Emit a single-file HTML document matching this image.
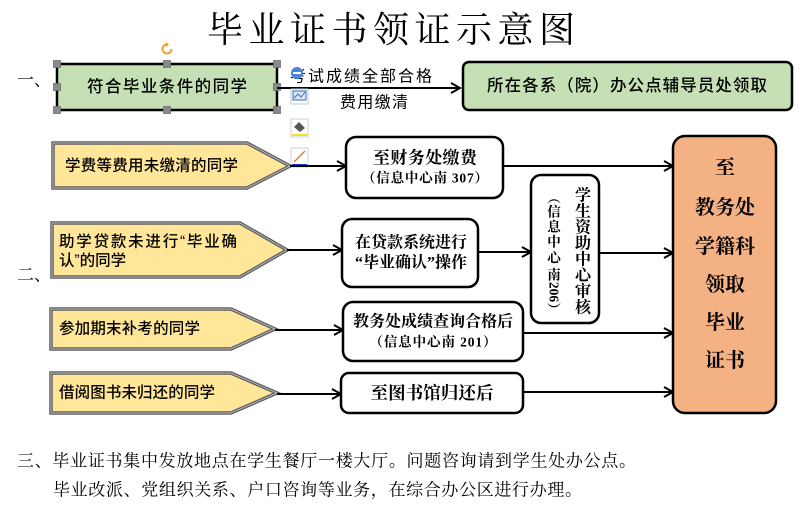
<!DOCTYPE html>
<html><head><meta charset="utf-8"><style>
html,body{margin:0;padding:0;background:#fff;}
svg{display:block;}
.s{font-family:"Liberation Serif","Noto Serif CJK SC",serif;}
.h{font-family:"Liberation Sans","Noto Sans CJK SC",sans-serif;}
</style></head><body>
<svg width="800" height="507" viewBox="0 0 800 507" xmlns="http://www.w3.org/2000/svg">
<rect width="800" height="507" fill="#fff"/>
<!-- Title -->
<text x="391" y="30" class="s" font-size="36" text-anchor="middle" dominant-baseline="central" textLength="368" lengthAdjust="spacing" fill="#000">毕业证书领证示意图</text>

<!-- section labels -->
<text x="17" y="80" class="s" font-size="17" dominant-baseline="central" fill="#000">一、</text>
<text x="17" y="275" class="s" font-size="17" dominant-baseline="central" fill="#000">二、</text>

<!-- Row 1 -->
<rect x="57" y="64" width="220" height="46" fill="#C5E0B4" stroke="#000" stroke-width="2.5"/>
<text x="167" y="87" class="h" font-size="16.5" font-weight="500" text-anchor="middle" dominant-baseline="central" textLength="160" lengthAdjust="spacing">符合毕业条件的同学</text>
<g fill="#8a8a8a" stroke="#6f6f6f" stroke-width="0.8">
<rect x="53.5" y="60.5" width="7" height="7"/><rect x="163.5" y="60.5" width="7" height="7"/><rect x="273.5" y="60.5" width="7" height="7"/>
<rect x="53.5" y="83.5" width="7" height="7"/><rect x="273.5" y="83.5" width="7" height="7"/>
<rect x="53.5" y="106.5" width="7" height="7"/><rect x="163.5" y="106.5" width="7" height="7"/><rect x="273.5" y="106.5" width="7" height="7"/>
</g>
<path d="M171.5 49 A4.5 4.5 0 1 1 167 44.5" fill="none" stroke="#F0A030" stroke-width="2"/>
<path d="M166 42 L169 44.5 L166 47 Z" fill="#F0A030"/>

<line x1="277" y1="88" x2="459" y2="88" stroke="#000" stroke-width="2"/>
<polyline points="451,83 460,88 451,93" fill="none" stroke="#000" stroke-width="2"/>
<text x="361" y="77" class="h" font-size="16" text-anchor="middle" dominant-baseline="central" textLength="142" lengthAdjust="spacing">考试成绩全部合格</text>
<text x="374" y="103" class="h" font-size="16" text-anchor="middle" dominant-baseline="central" textLength="68" lengthAdjust="spacing">费用缴清</text>

<rect x="463" y="62" width="329" height="48" rx="6" fill="#C5E0B4" stroke="#000" stroke-width="2.5"/>
<text x="627" y="86" class="h" font-size="16.5" font-weight="500" text-anchor="middle" dominant-baseline="central" textLength="280" lengthAdjust="spacing">所在各系（院）办公点辅导员处领取</text>

<!-- floating toolbar icons -->
<circle cx="297" cy="73" r="6" fill="#4a86d8"/>
<rect x="293" y="72" width="8" height="2" fill="#fff"/>
<rect x="291" y="89" width="17" height="15" fill="#fff" stroke="#b8c8dc" stroke-width="1"/>
<rect x="293" y="91" width="13" height="9" fill="#dbe6f4" stroke="#3a6fb8" stroke-width="1"/>
<polyline points="294,98 298,94 301,97 305,92" fill="none" stroke="#3a6fb8" stroke-width="1"/>
<rect x="291" y="119" width="17" height="18" fill="#fff" stroke="#cfcfcf" stroke-width="1"/>
<path d="M294 127 L299 122 L305 128 L300 132 Z" fill="#555"/>
<rect x="292" y="134" width="15" height="2" fill="#f2e020"/>
<rect x="291" y="148" width="17" height="19" fill="#fff" stroke="#cfcfcf" stroke-width="1"/>
<line x1="294" y1="162" x2="305" y2="151" stroke="#e07a40" stroke-width="1.5"/>
<rect x="292" y="164" width="15" height="2" fill="#2030d0"/>

<!-- Pentagons -->
<g fill="#FFE699" stroke="#5e5e5e" stroke-width="3.5" stroke-linejoin="miter">
<polygon points="53,143 247,143 290,166 247,188 53,188"/>
<polygon points="52,223 240,223 287,250 240,277 52,277"/>
<polygon points="51,309 231,309 275,329 231,349 51,349"/>
<polygon points="51,373 231,373 277,393 231,413 51,413"/>
</g>
<g fill="none" stroke="#b5b5b5" stroke-width="1">
<polygon points="53,143 247,143 290,166 247,188 53,188"/>
<polygon points="52,223 240,223 287,250 240,277 52,277"/>
<polygon points="51,309 231,309 275,329 231,349 51,349"/>
<polygon points="51,373 231,373 277,393 231,413 51,413"/>
</g>
<g class="h" font-size="15.5" font-weight="500" dominant-baseline="central" fill="#000">
<text x="65" y="166" textLength="173" lengthAdjust="spacing">学费等费用未缴清的同学</text>
<text x="59" y="242" textLength="178" lengthAdjust="spacing">助学贷款未进行“毕业确</text>
<text x="59" y="261">认”的同学</text>
<text x="59" y="329" textLength="141" lengthAdjust="spacing">参加期末补考的同学</text>
<text x="59" y="393" textLength="156" lengthAdjust="spacing">借阅图书未归还的同学</text>
</g>

<!-- connectors -->
<g stroke="#000" stroke-width="2" fill="none">
<line x1="290" y1="166" x2="345" y2="166"/><polyline points="337,161 346,166 337,171"/>
<line x1="287" y1="250" x2="341" y2="250"/><polyline points="333,245 342,250 333,255"/>
<line x1="275" y1="330" x2="342" y2="330"/><polyline points="334,325 343,330 334,335"/>
<line x1="277" y1="394" x2="340" y2="394"/><polyline points="332,389 341,394 332,399"/>
<line x1="503" y1="166" x2="672" y2="166"/><polyline points="664,161 673,166 664,171"/>
<line x1="478" y1="252" x2="530" y2="252"/><polyline points="522,247 531,252 522,257"/>
<line x1="599" y1="253" x2="672" y2="253"/><polyline points="664,248 673,253 664,258"/>
<line x1="523" y1="333" x2="672" y2="333"/><polyline points="664,328 673,333 664,338"/>
<line x1="523" y1="392" x2="672" y2="392"/><polyline points="664,387 673,392 664,397"/>
</g>

<!-- middle boxes -->
<g fill="#fff" stroke="#000" stroke-width="2.5">
<rect x="346" y="137" width="157" height="61" rx="10"/>
<rect x="342" y="219" width="136" height="68" rx="10"/>
<rect x="343" y="302" width="180" height="59" rx="10"/>
<rect x="341" y="373" width="182" height="40" rx="8"/>
<rect x="531" y="175" width="68" height="148" rx="10"/>
</g>
<g class="s" text-anchor="middle" dominant-baseline="central" fill="#000" font-weight="bold">
<text x="425" y="158" font-size="17" textLength="104" lengthAdjust="spacing">至财务处缴费</text>
<text x="425" y="178" font-size="13.5" textLength="126" lengthAdjust="spacing">（信息中心南 307）</text>
<text x="411" y="243" font-size="16" textLength="112" lengthAdjust="spacing">在贷款系统进行</text>
<text x="411" y="263" font-size="16" textLength="112" lengthAdjust="spacing">“毕业确认”操作</text>
<text x="433" y="322" font-size="16" textLength="160" lengthAdjust="spacing">教务处成绩查询合格后</text>
<text x="433" y="342" font-size="13.5" textLength="127" lengthAdjust="spacing">（信息中心南 201）</text>
<text x="432" y="393" font-size="17.5" textLength="123" lengthAdjust="spacing">至图书馆归还后</text>
</g>
<!-- vertical box text -->
<g class="s" font-weight="bold" fill="#000" text-anchor="middle" dominant-baseline="central" font-size="16">
<text x="583" y="196">学</text>
<text x="583" y="212">生</text>
<text x="583" y="228">资</text>
<text x="583" y="244">助</text>
<text x="583" y="260">中</text>
<text x="583" y="276">心</text>
<text x="583" y="292">审</text>
<text x="583" y="308">核</text>
</g>
<g class="s" font-weight="bold" fill="#000" text-anchor="middle" dominant-baseline="central" font-size="13.5">
<text x="554" y="198">︵</text>
<text x="554" y="212">信</text>
<text x="554" y="227">息</text>
<text x="554" y="242">中</text>
<text x="554" y="258">心</text>
<text x="554" y="275">南</text>
<text x="554" y="292" transform="rotate(90 554 292)">206</text>
<text x="554" y="310">︶</text>
</g>

<!-- right box -->
<rect x="673" y="136" width="103" height="277" rx="12" fill="#F4B183" stroke="#000" stroke-width="2.5"/>
<g class="s" font-size="20" font-weight="bold" text-anchor="middle" dominant-baseline="central" fill="#000">
<text x="725" y="168">至</text>
<text x="725" y="208">教务处</text>
<text x="725" y="247">学籍科</text>
<text x="725" y="285">领取</text>
<text x="725" y="323">毕业</text>
<text x="725" y="361">证书</text>
</g>

<!-- bottom text -->
<g class="s" font-size="17" dominant-baseline="central" fill="#000">
<text x="17" y="461" textLength="619" lengthAdjust="spacing">三、毕业证书集中发放地点在学生餐厅一楼大厅。问题咨询请到学生处办公点。</text>
<text x="53" y="490" textLength="529" lengthAdjust="spacing">毕业改派、党组织关系、户口咨询等业务，在综合办公区进行办理。</text>
</g>
</svg>
</body></html>
